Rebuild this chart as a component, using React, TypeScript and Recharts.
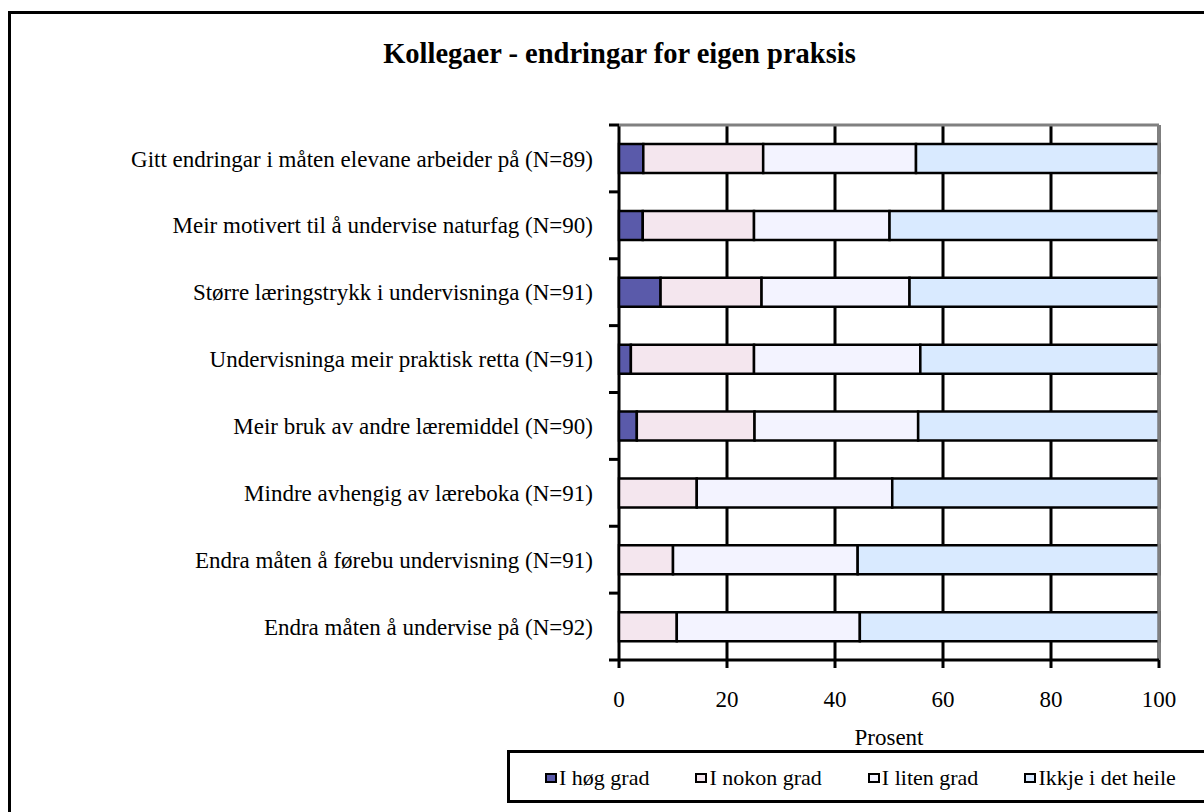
import { BarChart, Bar, XAxis, YAxis, CartesianGrid, ReferenceLine } from "recharts";

const categories = [
  "Gitt endringar i måten elevane arbeider på (N=89)",
  "Meir motivert til å undervise naturfag (N=90)",
  "Større læringstrykk i undervisninga (N=91)",
  "Undervisninga meir praktisk retta (N=91)",
  "Meir bruk av andre læremiddel (N=90)",
  "Mindre avhengig av læreboka (N=91)",
  "Endra måten å førebu undervisning (N=91)",
  "Endra måten å undervise på (N=92)",
];

const hoegGrad = [4.5, 4.4, 7.7, 2.2, 3.3, 0, 0, 0];
const nokonGrad = [22.2, 20.6, 18.7, 22.8, 21.8, 14.4, 10.0, 10.7];
const litenGrad = [28.3, 25.1, 27.4, 30.8, 30.3, 36.2, 34.2, 33.9];
const ikkjeHeile = [45.0, 49.9, 46.2, 44.2, 44.6, 49.4, 55.8, 55.4];

const xTicks = [0, 20, 40, 60, 80, 100];

const series = [
  { key: "hoeg", name: "I høg grad", color: "#5a5aaa" },
  { key: "nokon", name: "I nokon grad", color: "#f4e6ee" },
  { key: "liten", name: "I liten grad", color: "#f3f3ff" },
  { key: "ikkje", name: "Ikkje i det heile", color: "#d9eaff" },
];

const data = categories.map((name, i) => ({
  name,
  hoeg: hoegGrad[i],
  nokon: nokonGrad[i],
  liten: litenGrad[i],
  ikkje: ikkjeHeile[i],
}));

const font = "'Liberation Serif', 'Times New Roman', serif";
const LABEL_GAP = 26;

// label plus the tick marks at the band edges (excel style)
const CategoryTick = (props: any) => {
  const { x, y, payload, index, visibleTicksCount } = props;
  const half = payload && payload.offset ? payload.offset : 33.4;
  const ax = x + LABEL_GAP;
  return (
    <g>
      <text
        x={x}
        y={y}
        dy="0.355em"
        textAnchor="end"
        fill="#000"
        fontSize={23}
        fontFamily={font}
      >
        {payload.value}
      </text>
      <line x1={ax - 10} x2={ax} y1={y - half} y2={y - half} stroke="#000" strokeWidth={3} />
      {index === visibleTicksCount - 1 && (
        <line x1={ax - 10} x2={ax} y1={y + half} y2={y + half} stroke="#000" strokeWidth={3} />
      )}
    </g>
  );
};

export default function App() {
  return (
    <div
      style={{
        position: "fixed",
        left: 0,
        top: 0,
        width: 1204,
        height: 812,
        overflow: "hidden",
        background: "#fff",
        fontFamily: font,
      }}
    >
      <div
        style={{
          position: "absolute",
          left: 8,
          top: 11,
          width: 1220,
          height: 820,
          border: "3px solid #000",
        }}
      />
      <div
        style={{
          position: "absolute",
          left: 0,
          width: 1239,
          top: 40,
          textAlign: "center",
          fontSize: 28.5,
          lineHeight: "28px",
          fontWeight: "bold",
          color: "#000",
        }}
      >
        Kollegaer - endringar for eigen praksis
      </div>
      <div style={{ position: "absolute", left: 0, top: 0 }}>
        <BarChart
          width={1204}
          height={812}
          data={data}
          layout="vertical"
          margin={{ top: 124, right: 45, bottom: 62, left: 19 }}
        >
          <CartesianGrid horizontal={false} stroke="#000" strokeWidth={3} />
          <XAxis
            type="number"
            domain={[0, 100]}
            ticks={xTicks}
            height={90}
            axisLine={{ stroke: "#000", strokeWidth: 3 }}
            tickLine={{ stroke: "#000", strokeWidth: 3 }}
            tickSize={8}
            tickMargin={23}
            tick={{ fill: "#000", fontSize: 23, fontFamily: font }}
            label={{
              value: "Prosent",
              position: "insideBottom",
              offset: 5,
              fill: "#000",
              fontSize: 23,
              fontFamily: font,
            }}
          />
          <XAxis
            xAxisId="top"
            orientation="top"
            type="number"
            domain={[0, 100]}
            height={1}
            tick={false}
            tickLine={false}
            axisLine={{ stroke: "#808080", strokeWidth: 3 }}
          />
          <YAxis
            type="category"
            dataKey="name"
            width={600}
            axisLine={false}
            tickLine={false}
            tickSize={0}
            tickMargin={LABEL_GAP}
            interval={0}
            tick={CategoryTick}
          />
          {series.map((s) => (
            <Bar
              key={s.key}
              dataKey={s.key}
              name={s.name}
              stackId="a"
              fill={s.color}
              stroke="#000"
              strokeWidth={2.5}
              barSize={29}
              isAnimationActive={false}
            />
          ))}
          <ReferenceLine x={100} stroke="#808080" strokeWidth={3} />
        </BarChart>
      </div>
      <div
        style={{
          position: "absolute",
          left: 507,
          top: 750,
          width: 720,
          height: 47,
          border: "3px solid #000",
        }}
      />
      <div
        style={{
          position: "absolute",
          left: 545,
          top: 767,
          display: "flex",
          gap: 46,
          fontSize: 22,
          lineHeight: "22px",
          color: "#000",
          whiteSpace: "nowrap",
        }}
      >
        {series.map((s) => (
          <div key={s.key} style={{ display: "flex", alignItems: "center" }}>
            <span
              style={{
                display: "inline-block",
                width: 8,
                height: 6,
                border: "2.5px solid #000",
                background: s.color,
                marginRight: 2,
              }}
            />
            <span>{s.name}</span>
          </div>
        ))}
      </div>
    </div>
  );
}
